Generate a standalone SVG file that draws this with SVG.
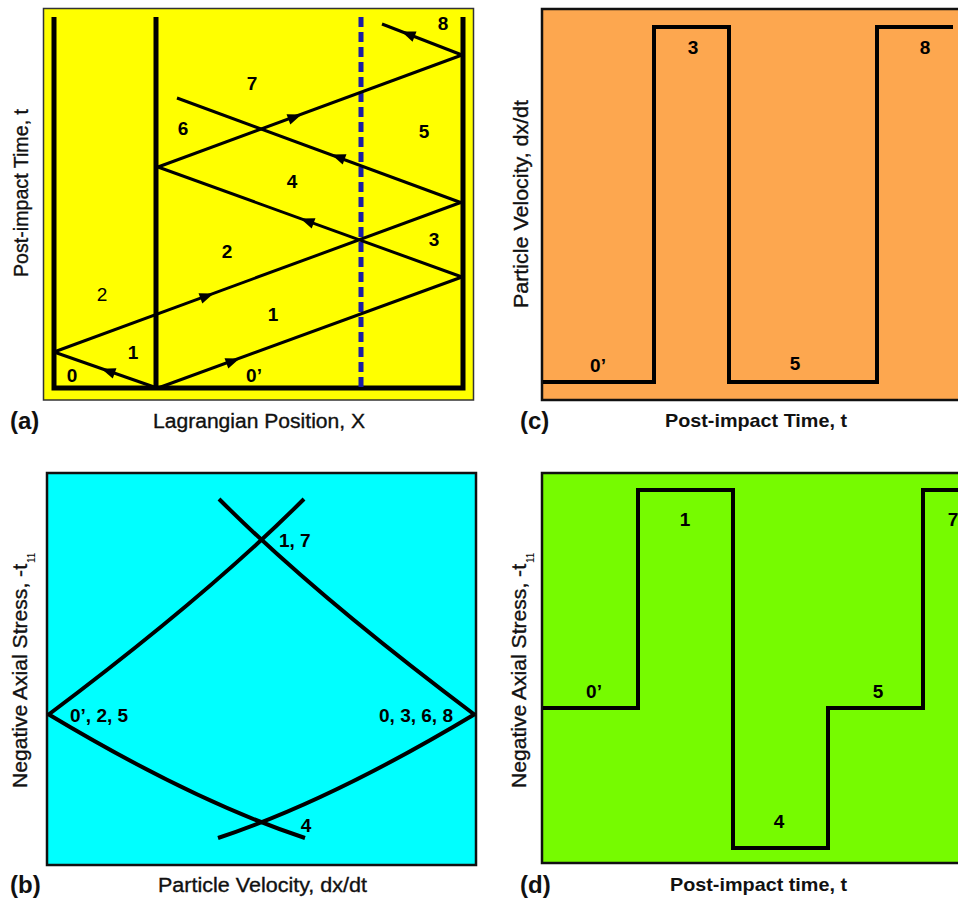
<svg xmlns="http://www.w3.org/2000/svg" width="958" height="905" viewBox="0 0 958 905">
<defs>
<style>
text{font-family:"Liberation Sans",Arial,sans-serif;fill:#000}
.num{font-weight:bold;font-size:19px}
.ax{font-size:20px;fill:#111;stroke:#111;stroke-width:0.35}
.axb{font-size:19px;font-weight:bold;fill:#111}
.pl{font-size:24px;font-weight:bold;fill:#111}
.wall{stroke:#000;stroke-width:5;fill:none}
.wave{stroke:#000;stroke-width:3;fill:none}
.curve{stroke:#000;stroke-width:4;fill:none;stroke-linecap:butt}
.sq{stroke:#000;stroke-width:4;fill:none;stroke-linejoin:miter}
.frame{stroke:#111;stroke-width:2.5}
</style>
<path id="ah" d="M7,0 L-7,-5.5 L-7,5.5 Z" fill="#000"/>
</defs>
<rect width="958" height="905" fill="#fff"/>

<!-- Panel (a) -->
<g id="panel-a">
<rect x="43.5" y="8.5" width="430" height="391.5" fill="#FFFF00" stroke="#333" stroke-width="1.5"/>
<path class="wall" d="M54,17 V390.5 M156,17 V390.5 M463,17 V390.5 M51.5,388 H465.5"/>
<line x1="361" y1="17" x2="361" y2="388" stroke="#1A1CA6" stroke-width="5" stroke-dasharray="10 5"/>
<g id="waves">
<path class="wave" d="M157,388 L54,352"/>
<path class="wave" d="M54,352 L462,202"/>
<path class="wave" d="M158,388 L462,277"/>
<path class="wave" d="M462,277 L158,167"/>
<path class="wave" d="M158,167 L462,55"/>
<path class="wave" d="M462,203 L177,98"/>
<path class="wave" d="M462,55 L382,24"/>
<use href="#ah" transform="translate(108,371) rotate(199.4)"/>
<use href="#ah" transform="translate(207,296) rotate(-20.2)"/>
<use href="#ah" transform="translate(233,361) rotate(-20)"/>
<use href="#ah" transform="translate(307,221) rotate(-160)"/>
<use href="#ah" transform="translate(295,117) rotate(-20.2)"/>
<use href="#ah" transform="translate(338,157) rotate(-159.8)"/>
<use href="#ah" transform="translate(408,34) rotate(-158.8)"/>
</g>
<g id="labels-a" text-anchor="middle">
<text class="num" x="443" y="30">8</text>
<text class="num" x="252" y="90">7</text>
<text class="num" x="183" y="135">6</text>
<text class="num" x="424" y="138">5</text>
<text class="num" x="292" y="188">4</text>
<text class="num" x="227" y="258">2</text>
<text class="num" x="434" y="246">3</text>
<text x="102" y="301" font-size="19" fill="#4a4a30">2</text>
<text class="num" x="273" y="321">1</text>
<text class="num" x="133" y="359">1</text>
<text class="num" x="72" y="382">0</text>
<text class="num" x="254" y="382">0’</text>
</g>
<text class="pl" x="10" y="429">(a)</text>
<text class="ax" x="153" y="428" textLength="212" lengthAdjust="spacingAndGlyphs">Lagrangian Position, X</text>
<text class="ax" transform="translate(28,193) rotate(-90)" text-anchor="middle" textLength="168" lengthAdjust="spacingAndGlyphs">Post-impact Time, t</text>
</g>

<!-- Panel (c) -->
<g id="panel-c">
<rect class="frame" x="542" y="9" width="420" height="391" fill="#FDA74F"/>
<path class="sq" d="M543,382 H654 V27 H729 V382 H877 V27 H953"/>
<g text-anchor="middle">
<text class="num" x="693" y="54">3</text>
<text class="num" x="925" y="54">8</text>
<text class="num" x="598" y="372">0’</text>
<text class="num" x="795" y="370">5</text>
</g>
<text class="pl" x="520" y="429">(c)</text>
<text class="axb" x="665" y="427" textLength="182" lengthAdjust="spacingAndGlyphs">Post-impact Time, t</text>
<text class="ax" transform="translate(528,204) rotate(-90)" text-anchor="middle" textLength="208" lengthAdjust="spacingAndGlyphs">Particle Velocity, dx/dt</text>
</g>

<!-- Panel (b) -->
<g id="panel-b">
<rect class="frame" x="47" y="473" width="429" height="392" fill="#00FFFF"/>
<path class="curve" d="M48,715 Q208,595 304,499"/>
<path class="curve" d="M475,715 Q315,595 219,499"/>
<path class="curve" d="M48,714 Q193,801 305,838"/>
<path class="curve" d="M475,714 Q330,801 218,838"/>
<text class="num" x="279" y="547">1, 7</text>
<text class="num" x="70" y="722">0’, 2, 5</text>
<text class="num" x="453" y="722" text-anchor="end">0, 3, 6, 8</text>
<text class="num" x="306" y="832" text-anchor="middle">4</text>
<text class="pl" x="10" y="893">(b)</text>
<text class="ax" x="158" y="892" textLength="209" lengthAdjust="spacingAndGlyphs">Particle Velocity, dx/dt</text>
<g transform="translate(27,788) rotate(-90)">
<text class="ax" x="0" y="0" textLength="224" lengthAdjust="spacingAndGlyphs">Negative Axial Stress, -t</text>
<text x="225" y="8" font-size="10" fill="#111">11</text>
</g>
</g>

<!-- Panel (d) -->
<g id="panel-d">
<rect class="frame" x="542" y="473" width="420" height="390" fill="#76FB00"/>
<path class="sq" d="M543,708 H638 V490 H733 V848 H828 V708 H923 V490 H958"/>
<g text-anchor="middle">
<text class="num" x="594" y="698">0’</text>
<text class="num" x="685" y="526">1</text>
<text class="num" x="779" y="828">4</text>
<text class="num" x="878" y="698">5</text>
<text class="num" x="953" y="526">7</text>
</g>
<text class="pl" x="520" y="893">(d)</text>
<text class="axb" x="670" y="891" textLength="177" lengthAdjust="spacingAndGlyphs">Post-impact time, t</text>
<g transform="translate(526,788) rotate(-90)">
<text class="ax" x="0" y="0" textLength="224" lengthAdjust="spacingAndGlyphs">Negative Axial Stress, -t</text>
<text x="225" y="8" font-size="10" fill="#111">11</text>
</g>
</g>
</svg>
